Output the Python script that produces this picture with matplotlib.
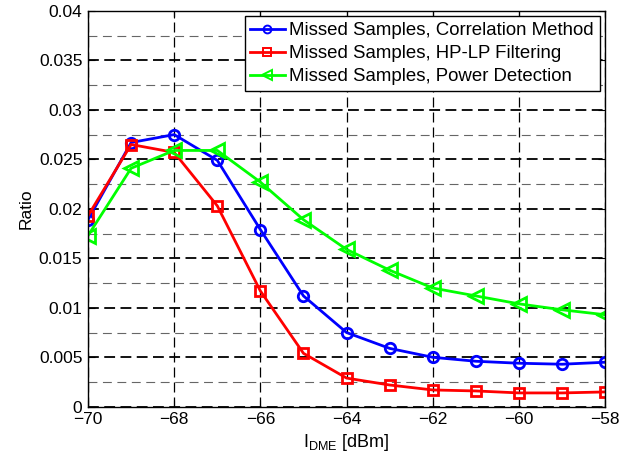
import numpy as np
import matplotlib
matplotlib.use('Agg')
import matplotlib.pyplot as plt
from matplotlib.ticker import MultipleLocator

plt.rcParams['font.family'] = ['Liberation Sans', 'DejaVu Sans']

# data
I_dme = [-70, -69, -68, -67, -66, -65, -64, -63, -62, -61, -60, -59, -58]
corr = [0.0189, 0.0267, 0.0275, 0.0249, 0.0179, 0.0112, 0.0075, 0.0059, 0.0050,
        0.0046, 0.0044, 0.0043, 0.0045]
hplp = [0.0193, 0.0265, 0.0257, 0.0203, 0.0117, 0.0054, 0.0029, 0.0022, 0.0017,
        0.0016, 0.0014, 0.0014, 0.0015]
power = [0.0173, 0.0241, 0.0259, 0.0259, 0.0227, 0.0189, 0.0159, 0.0138, 0.0120,
         0.0112, 0.0104, 0.0098, 0.0093]
labels = ['Missed Samples, Correlation Method',
          'Missed Samples, HP-LP Filtering',
          'Missed Samples, Power Detection']
yticklabels = ['0', '0.005', '0.01', '0.015', '0.02', '0.025', '0.03', '0.035', '0.04']

fig = plt.figure(figsize=(6.31, 4.54), dpi=100)
ax = fig.add_axes([0.1395, 0.104, 0.8195, 0.872])

ax.plot(I_dme, corr, 'b-o', lw=2, ms=7.5, mfc='none', mew=2, label=labels[0])
ax.plot(I_dme, hplp, 'r-s', lw=2, ms=7, mfc='none', mew=2, label=labels[1])
ax.plot(I_dme, power, '-<', color=(0, 1, 0), lw=2, ms=9.5, mfc='none', mew=2, label=labels[2])

ax.set_xlim(-70, -58)
ax.set_ylim(0, 0.04)
ax.xaxis.set_major_locator(MultipleLocator(2))
ax.set_yticks(np.arange(0, 0.0401, 0.005))
ax.set_yticklabels(yticklabels)
ax.yaxis.set_minor_locator(MultipleLocator(0.0025))

ax.grid(True, which='major', axis='y', color='k', ls=(0, (6, 3)), lw=1.3)
ax.grid(True, which='major', axis='x', color='k', ls=(0, (8, 4)), lw=0.9)
ax.grid(True, which='minor', axis='y', color='0.4', ls=(0, (8, 5)), lw=0.8)
ax.set_axisbelow(True)
ax.tick_params(which='both', direction='in', top=True, right=True, labelsize=12.5)
ax.tick_params(which='major', length=5, pad=4)
ax.tick_params(which='minor', length=0)
for s in ax.spines.values():
    s.set_linewidth(1)

ax.set_xlabel(r'I$_{\mathregular{DME}}$ [dBm]', fontsize=13, labelpad=3)
ax.set_ylabel('Ratio', fontsize=12.5, labelpad=4)

leg = ax.legend(loc='upper right', fontsize=13.4, fancybox=False, framealpha=1,
                edgecolor='k', borderpad=0.3, labelspacing=0.33, handlelength=1.85,
                handletextpad=0.25, borderaxespad=0.3, markerscale=0.75)
leg.get_frame().set_linewidth(1)
for h in leg.legend_handles:
    h.set_markeredgewidth(1.4)

fig.savefig('out.png', dpi=100)
plt.close()
